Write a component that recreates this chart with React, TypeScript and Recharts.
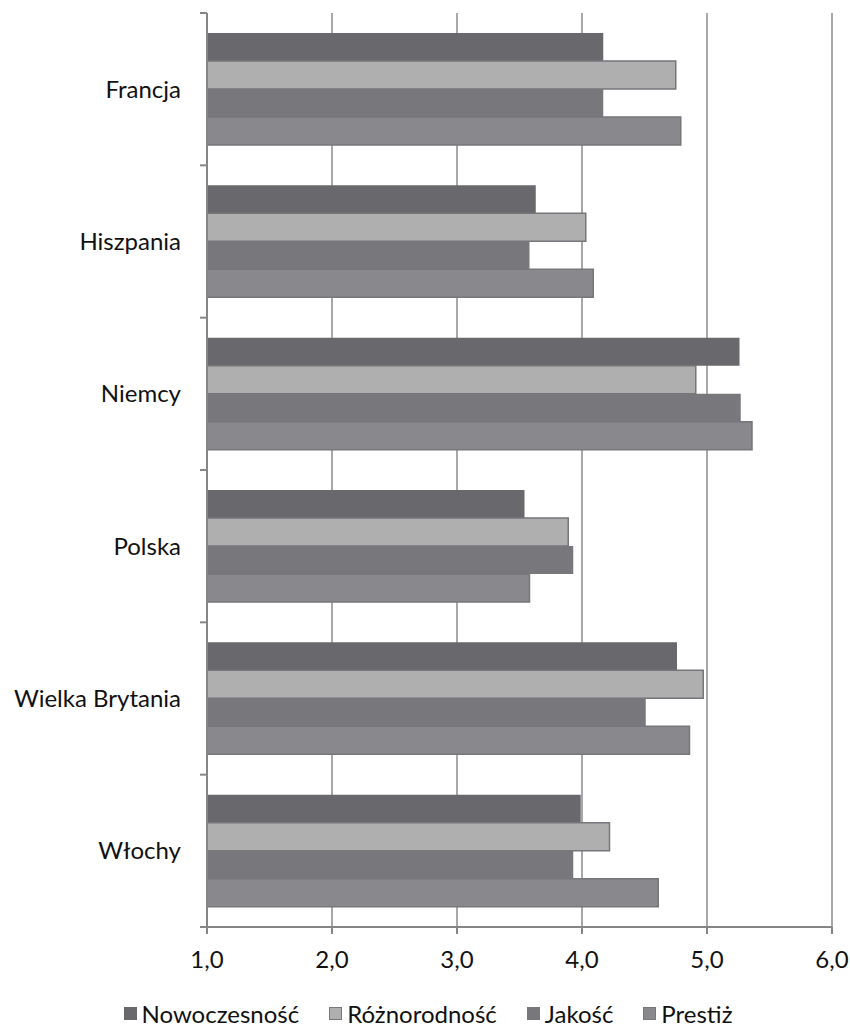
import { BarChart, Bar, XAxis, YAxis, CartesianGrid, Legend } from "recharts";

const countries = ["Francja", "Hiszpania", "Niemcy", "Polska", "Wielka Brytania", "Włochy"];
const nowoczesnosc = [4.17, 3.63, 5.26, 3.54, 4.76, 3.99];
const roznorodnosc = [4.75, 4.03, 4.91, 3.89, 4.97, 4.22];
const jakosc = [4.17, 3.58, 5.27, 3.93, 4.51, 3.93];
const prestiz = [4.79, 4.09, 5.36, 3.58, 4.86, 4.61];
const xTicks = [1, 2, 3, 4, 5, 6];

const SERIES = [
  { key: "nowoczesnosc", name: "Nowoczesność", fill: "#69686d", stroke: "none" },
  { key: "roznorodnosc", name: "Różnorodność", fill: "#afafaf", stroke: "#77767b" },
  { key: "jakosc", name: "Jakość", fill: "#78777c", stroke: "none" },
  { key: "prestiz", name: "Prestiż", fill: "#89888d", stroke: "#77767b" },
];

const data = countries.map((name, i) => ({
  name,
  nowoczesnosc: nowoczesnosc[i],
  roznorodnosc: roznorodnosc[i],
  jakosc: jakosc[i],
  prestiz: prestiz[i],
}));

const FONT = "Lato, 'Open Sans', sans-serif";
const FONT_SIZE = 24;
const TEXT = "#111111";
const AXIS = "#868686";
const GRID = "#a8a8a8";
const TICK_MARGIN = 26;

// category label plus a tick mark on the band boundary (Excel style)
function CountryTick(props: any) {
  const { x, y, payload, index, visibleTicksCount } = props;
  const axisX = x + TICK_MARGIN;
  const off = payload?.offset ?? 0;
  const last = index === (visibleTicksCount ?? countries.length) - 1;
  return (
    <g>
      <text x={x} y={y} dy="0.35em" textAnchor="end" fill={TEXT} fontSize={FONT_SIZE} fontFamily={FONT}>
        {payload.value}
      </text>
      {off > 0 && <line x1={axisX - 7} x2={axisX} y1={y - off} y2={y - off} stroke={AXIS} strokeWidth={2} />}
      {off > 0 && last && <line x1={axisX - 7} x2={axisX} y1={y + off} y2={y + off} stroke={AXIS} strokeWidth={2} />}
    </g>
  );
}

function LegendBox() {
  return (
    <div
      style={{
        display: "flex",
        justifyContent: "center",
        alignItems: "center",
        gap: 30,
        paddingLeft: 24,
        paddingTop: 6,
        height: 28,
        fontFamily: FONT,
        fontSize: FONT_SIZE,
        color: TEXT,
      }}
    >
      {SERIES.map((s) => (
        <span key={s.key} style={{ display: "flex", alignItems: "center", gap: 5 }}>
          <span
            style={{
              width: 13,
              height: 13,
              background: s.fill,
              border: `1px solid ${s.stroke === "none" ? s.fill : s.stroke}`,
              boxSizing: "border-box",
            }}
          />
          {s.name}
        </span>
      ))}
    </div>
  );
}

export default function App() {
  return (
    <div style={{ position: "absolute", left: 0, top: 0 }}>
      <BarChart
        width={850}
        height={1027}
        data={data}
        layout="vertical"
        margin={{ top: 13, right: 18, bottom: 0, left: 0 }}
        barCategoryGap={20}
        barGap={0}
      >
        <CartesianGrid horizontal={false} stroke={GRID} strokeWidth={2} xAxisId="bottom" />
        <XAxis
          xAxisId="bottom"
          type="number"
          domain={[1, 6]}
          ticks={xTicks}
          interval={0}
          height={66}
          tickSize={7}
          tickMargin={17}
          stroke={AXIS}
          axisLine={{ stroke: AXIS, strokeWidth: 2 }}
          tickLine={{ stroke: AXIS, strokeWidth: 2 }}
          tick={{ fill: TEXT, fontSize: FONT_SIZE, fontFamily: FONT }}
          tickFormatter={(v: number) => v.toFixed(1).replace(".", ",")}
        />
        <XAxis
          xAxisId="top"
          orientation="top"
          type="number"
          domain={[1, 6]}
          height={0}
          tick={false}
          tickLine={false}
          axisLine={{ stroke: GRID, strokeWidth: 2 }}
        />
        <YAxis
          type="category"
          dataKey="name"
          width={207}
          tickSize={0}
          tickMargin={TICK_MARGIN}
          tickLine={false}
          interval={0}
          axisLine={{ stroke: AXIS, strokeWidth: 2 }}
          tick={<CountryTick />}
        />
        <Legend verticalAlign="bottom" content={<LegendBox />} />
        {SERIES.map((s) => (
          <Bar
            key={s.key}
            xAxisId="bottom"
            dataKey={s.key}
            name={s.name}
            fill={s.fill}
            stroke={s.stroke}
            strokeWidth={1.5}
            isAnimationActive={false}
          />
        ))}
      </BarChart>
    </div>
  );
}
